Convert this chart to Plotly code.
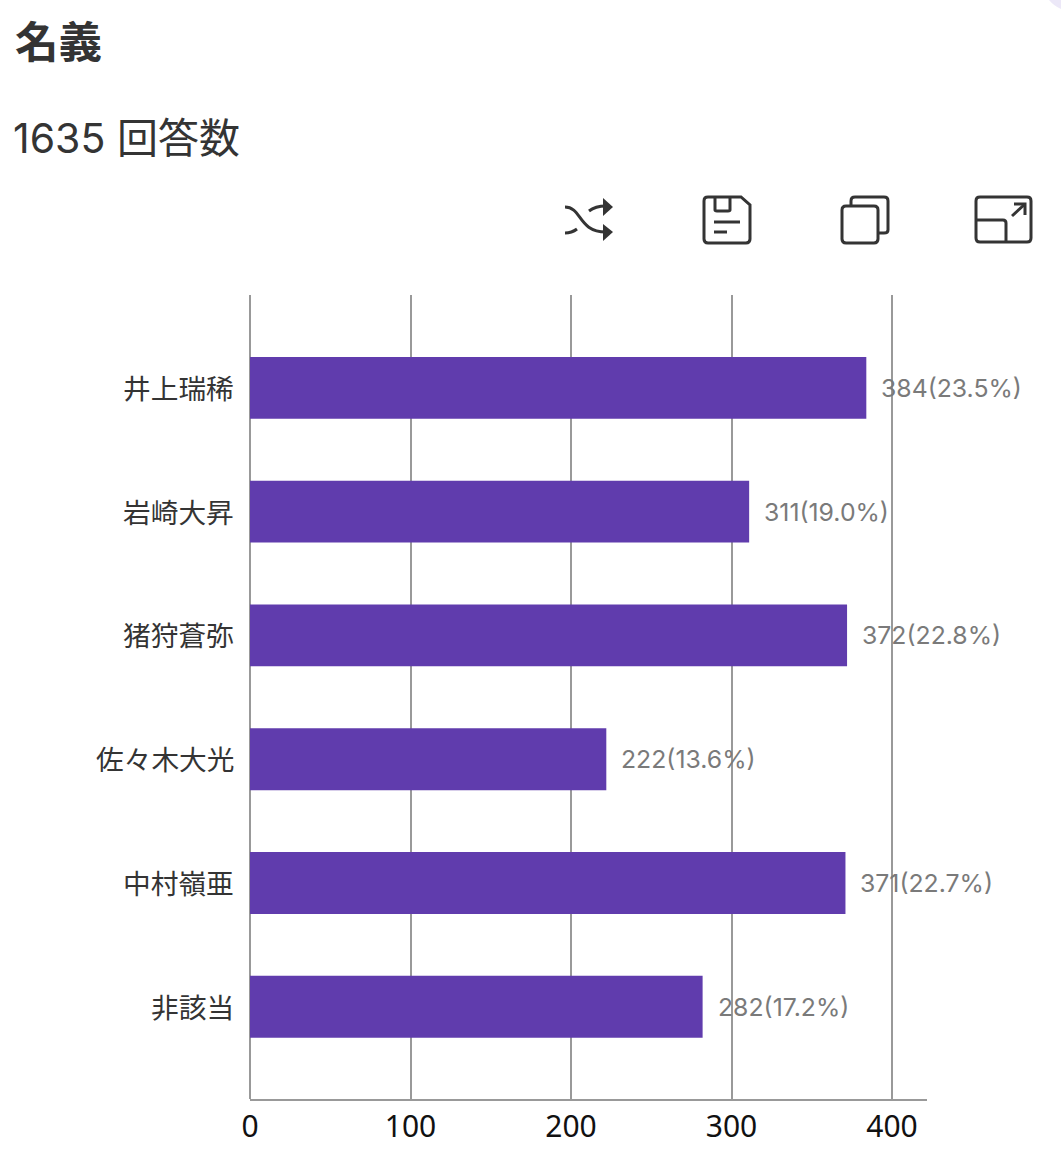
import plotly.graph_objects as go

W, H = 1061, 1163
L, R, T, B = 250, 927, 295, 1099

names = ["井上瑞稀", "岩崎大昇", "猪狩蒼弥", "佐々木大光", "中村嶺亜", "非該当"]
counts = [384, 311, 372, 222, 371, 282]
shares = ["23.5", "19.0", "22.8", "13.6", "22.7", "17.2"]
x_ticks = [0, 100, 200, 300, 400]

FONT = "Inter, 'Noto Sans CJK JP', sans-serif"
CJK = "'Noto Sans CJK JP', sans-serif"
INK = "#343434"
GRID = "#999999"
PURPLE = "#603cad"


def px(x, y):
    """Page pixel position to paper coordinates."""
    return (x - L) / (R - L), (B - y) / (B - T)


def path(*cmds):
    """Build an SVG path from ('M', x, y, ...) commands given in page pixels."""
    out = []
    for c in cmds:
        if c == "Z":
            out.append("Z")
            continue
        pts = []
        for i in range(1, len(c), 2):
            a, b = px(c[i], c[i + 1])
            pts.append(f"{a:.5f},{b:.5f}")
        out.append(c[0] + " ".join(pts))
    return " ".join(out)


def stroke(*cmds, width=3.0):
    return dict(type="path", xref="paper", yref="paper", path=path(*cmds),
                line=dict(color=INK, width=width), layer="above")


def fill(*cmds, color=INK):
    return dict(type="path", xref="paper", yref="paper", path=path(*cmds),
                fillcolor=color, line=dict(width=0), layer="above")


def rrect(x0, y0, x1, y1, r=4):
    return (("M", x0 + r, y0), ("L", x1 - r, y0), ("Q", x1, y0, x1, y0 + r),
            ("L", x1, y1 - r), ("Q", x1, y1, x1 - r, y1), ("L", x0 + r, y1),
            ("Q", x0, y1, x0, y1 - r), ("L", x0, y0 + r), ("Q", x0, y0, x0 + r, y0), "Z")


toolbar = [
    # shuffle
    stroke(("M", 565, 207), ("C", 582, 207, 578, 232, 606, 232)),
    stroke(("M", 565, 233), ("C", 570, 233, 573, 232, 577, 229)),
    stroke(("M", 589, 211), ("C", 594, 207, 598, 206, 606, 206)),
    fill(("M", 603, 198), ("L", 613, 207), ("L", 603, 216), "Z"),
    fill(("M", 603, 224), ("L", 613, 232), ("L", 603, 241), "Z"),
    # save
    stroke(("M", 708, 197), ("L", 741, 197), ("L", 750, 205), ("L", 750, 239),
           ("Q", 750, 243, 746, 243), ("L", 708, 243), ("Q", 704, 243, 704, 239),
           ("L", 704, 201), ("Q", 704, 197, 708, 197), "Z"),
    stroke(("M", 715, 197), ("L", 715, 210), ("Q", 715, 211, 717, 211), ("L", 728, 211),
           ("Q", 730, 211, 730, 210), ("L", 730, 197)),
    stroke(("M", 714, 222), ("L", 740, 222)),
    stroke(("M", 714, 232), ("L", 727, 232)),
    # copy
    stroke(*rrect(842, 206, 878, 243)),
    stroke(("M", 851, 206), ("L", 851, 201), ("Q", 851, 197, 855, 197), ("L", 884, 197),
           ("Q", 888, 197, 888, 201), ("L", 888, 230), ("Q", 888, 233, 884, 233), ("L", 878, 233)),
    # expand
    stroke(*rrect(976, 197, 1031, 242)),
    stroke(("M", 976, 220), ("L", 1003, 220), ("Q", 1006, 220, 1006, 223), ("L", 1006, 242)),
    stroke(("M", 1012, 216), ("L", 1025, 204)),
    stroke(("M", 1014, 204), ("L", 1025, 204), ("L", 1025, 215)),
    # page corner tint
    fill(("M", 1049, 0), ("Q", 1054, 6, 1061, 9), ("L", 1061, 0), "Z", color="#ece8f8"),
]

fig = go.Figure(
    go.Bar(
        y=names,
        x=counts,
        orientation="h",
        width=0.5,
        marker=dict(color=PURPLE, line=dict(width=0)),
        hoverinfo="skip",
    )
)

annotations = [
    dict(text="名義", xref="paper", yref="paper", x=px(13, 0)[0], y=px(0, 40)[1],
         xanchor="left", yanchor="middle", showarrow=False,
         font=dict(family=CJK, size=43.5, color=INK, weight=700)),
    dict(text="1635 回答数", xref="paper", yref="paper", x=px(11, 0)[0], y=px(0, 138)[1],
         xanchor="left", yanchor="middle", showarrow=False,
         font=dict(family=FONT, size=41, color=INK)),
]
for name, n, s in zip(names, counts, shares):
    annotations.append(
        dict(text=f"{n}({s}%)", x=n, y=name, xref="x", yref="y", xanchor="left",
             yanchor="middle", xshift=13, yshift=0, showarrow=False,
             font=dict(family=FONT, size=24.8, color="#7a7a7a"))
    )
    # category labels sit just left of the zero line
    annotations.append(
        dict(text=name, x=0, y=name, xref="x", yref="y", xanchor="right",
             yanchor="middle", xshift=-14, yshift=1, showarrow=False,
             font=dict(family=CJK, size=27.7, color=INK))
    )

fig.update_layout(
    width=W,
    height=H,
    autosize=False,
    margin=dict(l=L, r=W - R, t=T, b=H - B, pad=0),
    paper_bgcolor="white",
    plot_bgcolor="white",
    showlegend=False,
    annotations=annotations,
    shapes=toolbar,
    xaxis=dict(
        range=[0, (R - L) / 1.605],
        tickvals=x_ticks,
        showgrid=True,
        gridcolor=GRID,
        gridwidth=1.6,
        zeroline=True,
        zerolinecolor=GRID,
        zerolinewidth=1.6,
        showline=True,
        linecolor=GRID,
        linewidth=1.5,
        ticks="",
        tickfont=dict(family="'Noto Sans', sans-serif", size=30, color="#111111"),
    ),
    yaxis=dict(
        categoryorder="array",
        categoryarray=names,
        range=[5.745, -0.75],
        showgrid=False,
        zeroline=False,
        showline=False,
        showticklabels=False,
        ticks="",
    ),
)

fig.write_html("out.html", config=dict(displayModeBar=False))
